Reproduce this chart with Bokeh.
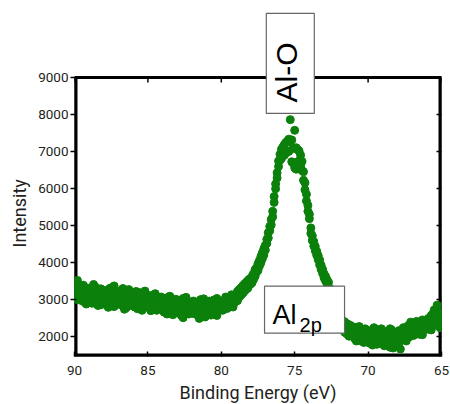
import numpy as np
from bokeh.plotting import figure
from bokeh.models import Range1d, FixedTicker, LinearAxis, Label, Title
from bokeh.embed import file_html
from bokeh.resources import INLINE

# Al 2p region, 0.1 eV steps from 90 eV down to 65 eV, two sweeps
energy_start, energy_end, n_points = 90.0, 65.0, 251

sweep_1 = [
    3180, 3420, 2990, 3260, 3050, 3330, 3110, 2920, 3240, 3150,
    3060, 3250, 2890, 3170, 3340, 2980, 3120, 3270, 2850, 3090,
    3120, 2870, 3240, 3010, 2930, 3310, 3070, 2800, 3180, 2990,
    2970, 3220, 2840, 3080, 3150, 2760, 3010, 3260, 2900, 3040,
    2880, 3100, 2990, 2740, 3180, 2920, 2810, 3050, 3220, 2860,
    2930, 2760, 3090, 2850, 2980, 3150, 2700, 2900, 3020, 2790,
    2870, 2650, 2990, 2780, 3060, 2720, 2890, 2580, 2950, 2810,
    2690, 2900, 2780, 2550, 3020, 2810, 2660, 2940, 2740, 2860,
    2810, 2640, 2930, 2720, 2580, 2870, 2990, 2690, 2770, 2520,
    2760, 2900, 2610, 2840, 2690, 2980, 2730, 2560, 2880, 2790,
    2850, 2700, 2930, 2780, 2990, 2820, 3040, 2900, 2790, 3100,
    3130, 2960, 3250, 3090, 3330, 3180, 3420, 3270, 3500, 3380,
    3560, 3450, 3690, 3620, 3850, 3780, 4050, 3990, 4260, 4200,
    4460, 4510, 4800, 4850, 5160, 5230, 5780, 5990, 6420, 6590,
    6920, 6810, 7120, 6900, 7240, 7010, 7330, 7860, 6720, 7080,
    7570, 6520, 7050, 6740, 6900, 6480, 6450, 5960, 5840, 5380,
    5300, 4780, 4720, 4440, 4430, 4190, 4180, 3930, 3920, 3700,
    3690, 3500, 3530, 3340, 3290, 3020, 3010, 2760, 2760, 2500,
    2560, 2310, 2450, 2160, 2390, 2080, 2330, 2000, 2290, 2050,
    2180, 1930, 2240, 2050, 1880, 2150, 2010, 1830, 2200, 1960,
    2080, 1810, 2150, 1960, 2230, 1880, 1780, 2090, 1940, 2200,
    2020, 1740, 2110, 1880, 1970, 2200, 1830, 1680, 2060, 1910,
    1960, 2150, 1650, 2080, 2230, 1900, 2010, 2270, 1980, 2380,
    2240, 2020, 2310, 2130, 2080, 2360, 2210, 2040, 2420, 2270,
    2380, 2190, 2450, 2560, 2280, 2710, 2390, 2840, 2460, 2230,
    2310,
]

sweep_2 = [
    3010, 3290, 3510, 3080, 3200, 2960, 3380, 3140, 2870, 3300,
    3230, 2940, 3110, 3400, 3020, 3190, 2830, 3060, 3280, 2960,
    2910, 3180, 3050, 2780, 3290, 3000, 3150, 3360, 2880, 3100,
    3120, 2880, 3000, 3290, 2730, 3060, 2950, 2820, 3170, 2890,
    3040, 2790, 3210, 2950, 2850, 3090, 2700, 2980, 2870, 3130,
    2810, 3030, 2690, 2960, 3120, 2840, 2990, 2740, 2880, 3060,
    2740, 3010, 2830, 2600, 2930, 3080, 2700, 2860, 2770, 3000,
    2880, 2620, 2970, 2750, 2500, 2840, 3050, 2710, 2600, 2790,
    2700, 2950, 2600, 2830, 2760, 2480, 2900, 2650, 3010, 2740,
    2640, 2800, 2950, 2570, 2870, 2720, 2660, 3020, 2750, 2830,
    2720, 2960, 2810, 3060, 2750, 2930, 2860, 3120, 3000, 2910,
    2980, 3210, 3050, 3290, 3140, 3380, 3230, 3460, 3300, 3540,
    3410, 3620, 3540, 3800, 3730, 3960, 3900, 4160, 4100, 4370,
    4330, 4620, 4660, 4970, 5010, 5380, 5620, 6120, 6280, 6740,
    6760, 7060, 6880, 7190, 6960, 7280, 7000, 7250, 7310, 6680,
    6560, 7100, 6720, 7010, 6600, 6730, 6220, 6150, 5660, 5540,
    5180, 4930, 4590, 4560, 4310, 4300, 4070, 4060, 3810, 3810,
    3580, 3620, 3420, 3460, 3180, 3160, 2880, 2880, 2630, 2650,
    2400, 2520, 2200, 2370, 2110, 2340, 2050, 2290, 2010, 2260,
    1990, 2220, 1870, 2100, 2260, 1920, 2130, 2040, 1850, 2170,
    1900, 2120, 1990, 1760, 2050, 2180, 1930, 1850, 2140, 1800,
    1850, 2130, 1780, 2040, 1950, 1700, 2170, 1900, 1800, 2090,
    2100, 1820, 2040, 1930, 2160, 2060, 1870, 2190, 2300, 2050,
    2060, 2280, 2150, 2400, 2190, 2050, 2330, 2440, 2170, 2350,
    2250, 2480, 2320, 2170, 2600, 2440, 2550, 2300, 2650, 2400,
    2560,
]

x_ticks = [90, 85, 80, 75, 70, 65]
y_ticks = [2000, 3000, 4000, 5000, 6000, 7000, 8000, 9000]
x_min, x_max = 90, 65
y_min, y_max = 1450, 9000

# annotation anchors (peak energy / counts)
alo_energy, alo_height = 75.3, 9380
al2p_energy, al2p_height = 74.33, 2717

energy = np.linspace(energy_start, energy_end, n_points)
all_energy = np.concatenate([energy, energy])
all_counts = np.array(sweep_1 + sweep_2)

font = "Roboto"
text_color = "#231f20"

# The plotting area reaches up to the top of the canvas so that the
# Al-O tag can stand above the axes box; the box itself is drawn as lines.
box_px = 279
head_px = 77
y_top = y_max + head_px * (y_max - y_min) / box_px

p = figure(
    width=450, height=404,
    frame_width=367, frame_height=box_px + head_px,
    min_border_left=73, min_border_right=10,
    min_border_top=0, min_border_bottom=48,
    x_range=Range1d(x_min, x_max), y_range=Range1d(y_min, y_top),
    output_backend="svg", toolbar_location=None,
)
p.background_fill_color = "white"
p.border_fill_color = "white"
p.grid.visible = False
p.outline_line_color = None

# axes box
p.quad(left=x_min, right=x_max, bottom=y_min, top=y_max,
       fill_color=None, line_color="black", line_width=3)
p.segment(x0=[x_min, x_max, x_min], y0=[y_min, y_min, y_min],
          x1=[x_min, x_max, x_max], y1=[y_max, y_max, y_min],
          line_color="black", line_width=6)
# inward ticks on the top edge
p.ray(x=x_ticks, y=[y_max] * len(x_ticks), length=5, length_units="screen",
      angle=-90, angle_units="deg", line_color="black", line_width=1.5)

p.scatter(all_energy, all_counts, size=8, color="#0b800b", line_color="#0b800b")

# bottom axis
p.xaxis.ticker = FixedTicker(ticks=x_ticks)
p.xaxis.axis_line_color = None
p.xaxis.major_tick_in = 5
p.xaxis.major_tick_out = 0
p.xaxis.major_tick_line_width = 1.5
p.xaxis.minor_tick_line_color = None
p.xaxis.major_label_standoff = 9
p.xaxis.axis_label = "Binding Energy (eV)"
p.xaxis.axis_label_standoff = 4

# left axis
p.yaxis.ticker = FixedTicker(ticks=y_ticks)
p.yaxis.axis_line_color = None
p.yaxis.major_tick_in = 2
p.yaxis.major_tick_out = 4
p.yaxis.major_tick_line_width = 1.5
p.yaxis.minor_tick_line_color = None
p.yaxis.major_label_standoff = 2

for ax in (p.xaxis[0], p.yaxis[0]):
    ax.major_label_text_font = font
    ax.major_label_text_font_size = "13.5px"
    ax.major_label_text_color = text_color
    ax.axis_label_text_font = font
    ax.axis_label_text_font_size = "18px"
    ax.axis_label_text_font_style = "normal"
    ax.axis_label_text_color = text_color

# y-axis title, placed along the axes box rather than the whole plotting area
p.add_layout(Title(text="Intensity", align="left", offset=109,
                   text_font=font, text_font_size="18px",
                   text_font_style="normal", text_color=text_color,
                   standoff=12), "left")

# inward ticks on the right edge
right = LinearAxis(ticker=FixedTicker(ticks=y_ticks), axis_line_color=None,
                   major_tick_in=5, major_tick_out=0, major_tick_line_width=1.5,
                   minor_tick_line_color=None, major_label_text_font_size="0px",
                   major_label_standoff=0)
p.add_layout(right, "right")

# peak tags
p.rect(x=[alo_energy], y=[alo_height], width=48, height=100,
       width_units="screen", height_units="screen",
       fill_color="white", line_color="#666666", line_width=1.2)
p.add_layout(Label(
    x=alo_energy, y=alo_height, x_offset=-4, y_offset=-9, text="Al-O",
    angle=90, angle_units="deg", text_align="center", text_baseline="middle",
    text_font="Liberation Sans", text_font_size="30px", text_color="black",
))

p.rect(x=[al2p_energy], y=[al2p_height], width=80, height=47,
       width_units="screen", height_units="screen",
       fill_color="white", line_color="#666666", line_width=1.2)
p.add_layout(Label(
    x=al2p_energy, y=al2p_height, x_offset=-32, y_offset=-5.5, text="Al",
    text_align="left", text_baseline="alphabetic",
    text_font="Liberation Sans", text_font_size="27px", text_color="black",
))
p.add_layout(Label(
    x=al2p_energy, y=al2p_height, x_offset=-5, y_offset=-15.5, text="2p",
    text_align="left", text_baseline="alphabetic",
    text_font="Liberation Sans", text_font_size="20px", text_color="black",
))

open("out.html", "w").write(file_html(p, INLINE))
